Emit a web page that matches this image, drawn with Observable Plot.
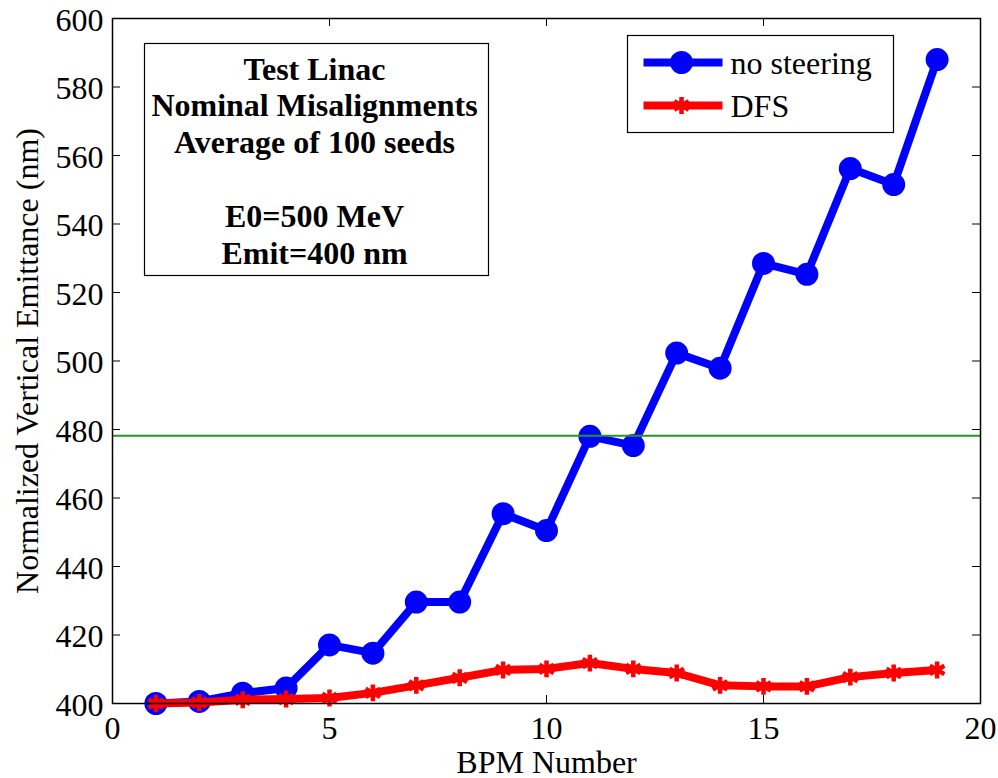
<!DOCTYPE html>
<html>
<head>
<meta charset="utf-8">
<script src="https://cdn.jsdelivr.net/npm/d3@7"></script>
<script src="https://cdn.jsdelivr.net/npm/@observablehq/plot@0.6"></script>
<style>
  html, body { margin: 0; padding: 0; background: #fff; }
  #chart svg { font-family: "Liberation Serif", "Times New Roman", serif; }
</style>
</head>
<body>
<div id="chart"></div>
<script>
const bpm = [1, 2, 3, 4, 5, 6, 7, 8, 9, 10, 11, 12, 13, 14, 15, 16, 17, 18, 19];
const noSteering = [400.0, 400.6, 403.0, 404.5, 417.1, 414.7, 429.6, 429.6, 455.4, 450.5, 478.0, 475.3, 502.3, 497.9, 528.5, 525.3, 556.2, 551.5, 588.0];
const dfs = [400.0, 400.3, 401.1, 401.3, 401.6, 403.1, 405.3, 407.5, 409.8, 410.1, 411.8, 410.1, 408.9, 405.3, 405.0, 405.0, 407.7, 408.9, 409.8];
const threshold = [478.2];
const xTicks = [0, 5, 10, 15, 20];
const yTicks = [400, 420, 440, 460, 480, 500, 520, 540, 560, 580, 600];
const seriesNames = ["no steering", "DFS"];
const boxLines = ["Test Linac", "Nominal Misalignments", "Average of 100 seeds", "", "E0=500 MeV", "Emit=400 nm"];
const xLabel = "BPM Number";
const yLabel = "Normalized Vertical Emittance (nm)";

const blueData = bpm.map((b, i) => ({bpm: b, v: noSteering[i]}));
const redData = bpm.map((b, i) => ({bpm: b, v: dfs[i]}));

const BLUE = "#0000ff", RED = "#ff0000", GREEN = "#1f9a1f";
const ML = 112, MR = 18, MT = 18, MB = 75;
const W = 998, H = 778;
const fw = W - ML - MR, fh = H - MT - MB;
const xPerPx = 20 / fw, yPerPx = 200 / fh;
const tickLen = 8;
const FONT = "Liberation Serif, Times New Roman, serif";

const chart = Plot.plot({
  width: W,
  height: H,
  marginLeft: ML,
  marginRight: MR,
  marginTop: MT,
  marginBottom: MB,
  style: {fontFamily: FONT, fontSize: "32px", background: "#fff", overflow: "visible"},
  x: {domain: [0, 20]},
  y: {domain: [400, 600]},
  marks: [
    // tick labels
    Plot.axisX(xTicks, {tickSize: 0, tickPadding: 13, fontSize: 32, label: null}),
    Plot.axisY(yTicks, {tickSize: 0, tickPadding: 9, fontSize: 32, label: null, dy: 2}),
    // inward ticks on all four sides
    Plot.ruleX(xTicks, {y1: 400, y2: 400 + tickLen * yPerPx, stroke: "black", strokeWidth: 1}),
    Plot.ruleX(xTicks, {y1: 600, y2: 600 - tickLen * yPerPx, stroke: "black", strokeWidth: 1}),
    Plot.ruleY(yTicks, {x1: 0, x2: tickLen * xPerPx, stroke: "black", strokeWidth: 1}),
    Plot.ruleY(yTicks, {x1: 20, x2: 20 - tickLen * xPerPx, stroke: "black", strokeWidth: 1}),
    // data
    Plot.line(blueData, {x: "bpm", y: "v", stroke: BLUE, strokeWidth: 8, strokeLinejoin: "round"}),
    Plot.dot(blueData, {x: "bpm", y: "v", r: 10, fill: BLUE, stroke: BLUE, strokeWidth: 3}),
    Plot.line(redData, {x: "bpm", y: "v", stroke: RED, strokeWidth: 8, strokeLinejoin: "round"}),
    Plot.dot(redData, {x: "bpm", y: "v", symbol: "asterisk", r: 8, stroke: RED, strokeWidth: 4.5}),
    Plot.ruleY(threshold, {stroke: GREEN, strokeWidth: 2}),
    Plot.frame({stroke: "black", strokeWidth: 1.5}),
    // annotation box
    Plot.frame({stroke: "black", strokeWidth: 1.2, fill: "white", insetLeft: 32, insetTop: 25, insetRight: 980 - 488, insetBottom: 703 - 275}),
    Plot.text([boxLines.join("\n")], {text: d => d, frameAnchor: "top-left", dx: 202, dy: 35, lineAnchor: "top", textAnchor: "middle", lineHeight: 1.15, fontWeight: "bold", fontSize: 32, fill: "black"}),
    // legend
    Plot.frame({stroke: "black", strokeWidth: 1.2, fill: "white", insetLeft: 627 - ML, insetTop: 35 - MT, insetRight: 980 - 893, insetBottom: 703 - 132}),
    Plot.frame({fill: BLUE, stroke: null, insetLeft: 643 - ML, insetRight: 980 - 722, insetTop: 62 - MT - 4, insetBottom: 703 - 62 - 4}),
    Plot.dot([seriesNames[0]], {frameAnchor: "top-left", dx: 681 - ML, dy: 62 - MT, r: 10, fill: BLUE, stroke: BLUE, strokeWidth: 3}),
    Plot.frame({fill: RED, stroke: null, insetLeft: 643 - ML, insetRight: 980 - 722, insetTop: 105 - MT - 4, insetBottom: 703 - 105 - 4}),
    Plot.dot([seriesNames[1]], {frameAnchor: "top-left", dx: 681 - ML, dy: 105 - MT, symbol: "asterisk", r: 8, stroke: RED, strokeWidth: 4.5}),
    Plot.text([seriesNames[0]], {text: d => d, frameAnchor: "top-left", dx: 730 - ML, dy: 63 - MT, lineAnchor: "middle", textAnchor: "start", fontSize: 32, fill: "black"}),
    Plot.text([seriesNames[1]], {text: d => d, frameAnchor: "top-left", dx: 730 - ML, dy: 106 - MT, lineAnchor: "middle", textAnchor: "start", fontSize: 32, fill: "black"}),
    // axis labels
    Plot.text([xLabel], {text: d => d, frameAnchor: "bottom", dy: 59, lineAnchor: "middle", textAnchor: "middle", fontSize: 32, fill: "black"}),
    Plot.text([yLabel], {text: d => d, frameAnchor: "left", dx: 27 - ML, rotate: -90, lineAnchor: "middle", textAnchor: "middle", fontSize: 32, fill: "black"})
  ]
});
document.getElementById("chart").appendChild(chart);
</script>
</body>
</html>
